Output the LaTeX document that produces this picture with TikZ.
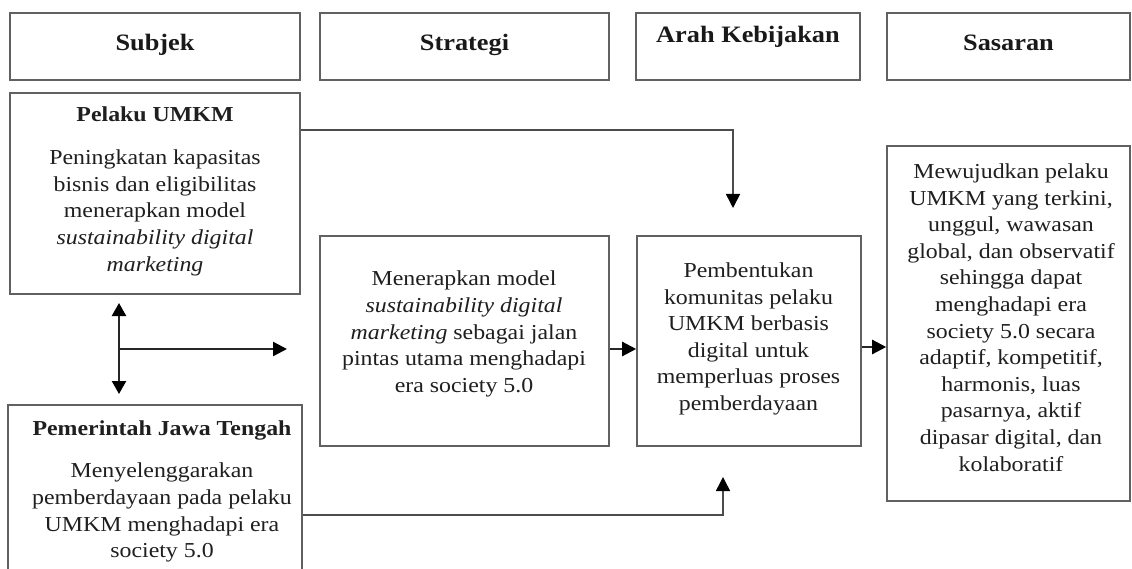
\documentclass[tikz,border=0pt]{standalone}
\usepackage{fontspec}
\setmainfont{Liberation Serif}[FakeStretch=1.12]
\usetikzlibrary{arrows.meta,calc}

\begin{document}
\begin{tikzpicture}[x=1pt,y=-1pt,
  box/.style={draw=black!62, line width=1.6pt, inner sep=0pt},
  headtxt/.style={font=\fontsize{23.5}{28}\selectfont\bfseries, text=black!90, anchor=base, inner sep=0pt},
  bodytxt/.style={font=\fontsize{21.3}{26.6}\selectfont, text=black!88, align=center, inner sep=0pt},
  link/.style={draw=black!70, line width=1.5pt},
  heavy/.style={draw=black!85, line width=2.4pt},
  tip/.style={-{Triangle[length=14pt,width=14pt,color=black]}},
  twotip/.style={{Triangle[length=13pt,width=14pt,color=black]}-{Triangle[length=13pt,width=14pt,color=black]}},
]
\useasboundingbox (0,0) rectangle (1132,569);
\clip (0,0) rectangle (1132,569);
\fill[white] (0,0) rectangle (1132,569);

% column headers
\node[box, minimum width=290pt, minimum height=67pt] (hsub) at (155,46.5) {};
\node[box, minimum width=289pt, minimum height=67pt] (hstr) at (464.5,46.5) {};
\node[box, minimum width=224pt, minimum height=67pt] (harah) at (748,46.5) {};
\node[box, minimum width=243pt, minimum height=67pt] (hsas) at (1008.5,46.5) {};
\node[headtxt] (tsub) at (155,51) {Subjek};
\node[headtxt] (tstr) at (464.5,51) {Strategi};
\node[headtxt] (tarah) at (748,43) {Arah Kebijakan};
\node[headtxt] (tsas) at (1008.5,51) {Sasaran};

% content boxes
\node[box, minimum width=290pt, minimum height=201pt] (pelaku) at (155,193.5) {};
\node[box, minimum width=294pt, minimum height=173pt] (pemerintah) at (155,491.5) {};
\node[box, minimum width=289pt, minimum height=210pt] (strat) at (464.5,341) {};
\node[box, minimum width=224pt, minimum height=210pt] (arahb) at (749,341) {};
\node[box, minimum width=243pt, minimum height=355pt] (sas) at (1008.5,323.5) {};

% box texts
\node[bodytxt] (tpelaku) at (155,191) {\textbf{Pelaku UMKM}\\[17pt]
  Peningkatan kapasitas\\ bisnis dan eligibilitas\\ menerapkan model\\
  \textit{sustainability digital}\\ \textit{marketing}};
\node[bodytxt] (tpemerintah) at (162,491.5) {\textbf{Pemerintah Jawa Tengah}\\[16pt]
  Menyelenggarakan\\ pemberdayaan pada pelaku\\ UMKM menghadapi era\\ society 5.0};
\node[bodytxt] (tstrat) at (464,334) {Menerapkan model\\ \textit{sustainability digital}\\
  \textit{marketing} sebagai jalan\\ pintas utama menghadapi\\ era society 5.0};
\node[bodytxt] (tarahb) at (748.5,339) {Pembentukan\\ komunitas pelaku\\ UMKM berbasis\\
  digital untuk\\ memperluas proses\\ pemberdayaan};
\node[bodytxt] (tsas2) at (1011,317.5) {Mewujudkan pelaku\\ UMKM yang terkini,\\ unggul, wawasan\\
  global, dan observatif\\ sehingga dapat\\ menghadapi era\\ society 5.0 secara\\
  adaptif, kompetitif,\\ harmonis, luas\\ pasarnya, aktif\\ dipasar digital, dan\\ kolaboratif};

% connector ends
\coordinate (drop) at (733,208);
\coordinate (rise) at (723,477);
\coordinate (fork) at (119,349);
\coordinate (forkup) at (119,303);
\coordinate (forkdn) at (119,394);
\coordinate (forkright) at (287,349);

% connectors
\draw[link, tip] ([yshift=-38pt]pelaku.north east) -| (drop);
\draw[link, tip] ([yshift=-111pt]pemerintah.north east) -| (rise);
\draw[heavy, twotip] (forkup) -- (forkdn);
\draw[heavy, tip] (fork) -- (forkright);
\draw[heavy, tip] ([yshift=-8pt]strat.east) -- ([yshift=-8pt]arahb.west);
\path ([yshift=-6pt]arahb.east) coordinate (aout);
\draw[heavy, tip] (aout) -- (aout -| sas.west);
\end{tikzpicture}
\end{document}
